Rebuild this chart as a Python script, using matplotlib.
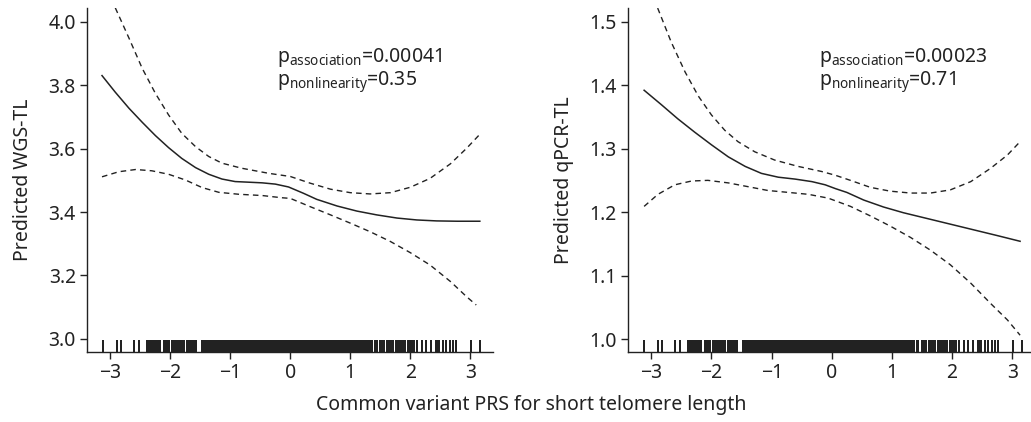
import matplotlib
matplotlib.use('Agg')
import matplotlib.pyplot as plt

plt.rcParams['font.family'] = ['Noto Sans', 'DejaVu Sans']
plt.rcParams['mathtext.default'] = 'regular'

# spline fit, WGS-TL (left)
wgs_x = [-3.14, -2.92, -2.69, -2.47, -2.25, -2.03, -1.81, -1.58, -1.36, -1.14, -0.92, -0.69,
         -0.47, -0.25, -0.03, 0.22, 0.44, 0.78, 1.11, 1.44, 1.78, 2.11, 2.44, 2.78, 3.16]
wgs_fit = [3.830, 3.778, 3.727, 3.683, 3.641, 3.603, 3.569, 3.540, 3.519, 3.504, 3.496, 3.494,
           3.492, 3.488, 3.479, 3.459, 3.440, 3.419, 3.403, 3.391, 3.381, 3.375, 3.372, 3.371, 3.371]
wgs_up_x = [-3.14, -2.91, -2.69, -2.47, -2.25, -2.03, -1.81, -1.58, -1.36, -1.14, -0.81, -0.36,
            0.0, 0.33, 0.67, 1.0, 1.33, 1.67, 2.0, 2.33, 2.67, 2.94, 3.16]
wgs_up = [4.137, 4.040, 3.948, 3.853, 3.774, 3.706, 3.648, 3.606, 3.575, 3.554, 3.538, 3.522,
          3.512, 3.491, 3.472, 3.461, 3.457, 3.461, 3.478, 3.506, 3.552, 3.601, 3.645]
wgs_lo_x = [-3.14, -2.86, -2.58, -2.31, -2.03, -1.75, -1.47, -1.19, -0.86, -0.47, -0.14, 0.0,
            0.33, 0.67, 1.0, 1.33, 1.67, 2.0, 2.33, 2.67, 2.94, 3.10]
wgs_lo = [3.511, 3.527, 3.534, 3.530, 3.519, 3.501, 3.477, 3.462, 3.456, 3.452, 3.445, 3.443,
          3.417, 3.391, 3.365, 3.338, 3.307, 3.272, 3.233, 3.181, 3.133, 3.107]

# spline fit, qPCR-TL (right)
qpcr_x = [-3.12, -2.83, -2.56, -2.28, -2.0, -1.72, -1.44, -1.17, -0.89, -0.61, -0.33, -0.11,
          0.06, 0.25, 0.53, 0.86, 1.19, 1.58, 1.97, 2.36, 2.75, 3.13]
qpcr_fit = [1.392, 1.369, 1.347, 1.326, 1.306, 1.287, 1.272, 1.261, 1.255, 1.252, 1.248, 1.243,
            1.237, 1.231, 1.219, 1.208, 1.199, 1.190, 1.181, 1.172, 1.163, 1.154]
qpcr_up_x = [-3.12, -2.88, -2.67, -2.44, -2.22, -2.0, -1.78, -1.56, -1.28, -0.95, -0.56, -0.17,
             0.06, 0.31, 0.64, 0.97, 1.31, 1.64, 1.97, 2.31, 2.64, 2.92, 3.13]
qpcr_up = [1.575, 1.518, 1.468, 1.421, 1.383, 1.353, 1.329, 1.311, 1.295, 1.282, 1.272, 1.264,
           1.258, 1.250, 1.239, 1.233, 1.230, 1.230, 1.235, 1.248, 1.269, 1.290, 1.311]
qpcr_lo_x = [-3.12, -2.89, -2.61, -2.33, -2.06, -1.72, -1.39, -1.06, -0.72, -0.39, -0.06,
             0.31, 0.64, 0.97, 1.31, 1.64, 1.97, 2.31, 2.64, 2.92, 3.13]
qpcr_lo = [1.209, 1.228, 1.243, 1.249, 1.250, 1.246, 1.240, 1.234, 1.231, 1.228, 1.222,
           1.209, 1.194, 1.178, 1.160, 1.140, 1.117, 1.088, 1.056, 1.030, 1.006]

# PRS values (rug)
prs = [-3.12, -2.89, -2.82, -2.60, -2.53, -2.39, -2.35, -2.32, -2.29, -2.26, -2.23, -2.20, -2.18,
       -2.11, -2.08, -2.06, -2.03, -1.97, -1.95, -1.93, -1.90, -1.88, -1.85, -1.83, -1.80, -1.77,
       -1.72, -1.69, -1.66, -1.63, -1.61, -1.57,
       -1.47, -1.45, -1.42, -1.40, -1.37, -1.35, -1.32, -1.30, -1.27, -1.25, -1.22, -1.20, -1.17,
       -1.15, -1.12, -1.10, -1.07, -1.05, -1.02, -1.00, -0.97, -0.95, -0.92, -0.90, -0.87, -0.85,
       -0.82, -0.80, -0.77, -0.75, -0.72, -0.70, -0.67, -0.65, -0.62, -0.60, -0.57, -0.55, -0.52,
       -0.50, -0.47, -0.45, -0.42, -0.40, -0.37, -0.35, -0.32, -0.30, -0.27, -0.25, -0.22, -0.20,
       -0.17, -0.15, -0.12, -0.10, -0.07, -0.05, -0.02, 0.00, 0.03, 0.05, 0.08, 0.10, 0.13, 0.15,
       0.18, 0.20, 0.23, 0.25, 0.28, 0.30, 0.33, 0.35, 0.38, 0.40, 0.43, 0.45, 0.48, 0.50, 0.53,
       0.55, 0.58, 0.60, 0.63, 0.65, 0.68, 0.70, 0.73, 0.75, 0.78, 0.80, 0.83, 0.85, 0.88, 0.90,
       0.93, 0.95, 0.98, 1.00, 1.03, 1.05, 1.08, 1.10, 1.13, 1.15, 1.18, 1.20, 1.23, 1.25, 1.28,
       1.30, 1.33, 1.36,
       1.41, 1.44, 1.50, 1.53, 1.56, 1.62, 1.65, 1.68, 1.72, 1.76, 1.79, 1.82, 1.85, 1.88, 1.92,
       1.96, 2.00, 2.03, 2.07, 2.12, 2.20, 2.27, 2.35, 2.43, 2.46, 2.48, 2.55, 2.60, 2.66, 2.72,
       2.77, 3.02, 3.17]

panels = [
    (wgs_x, wgs_fit, wgs_up_x, wgs_up, wgs_lo_x, wgs_lo, 'Predicted WGS-TL',
     [3.0, 3.2, 3.4, 3.6, 3.8, 4.0], (2.959, 4.043), '0.00041', '0.35'),
    (qpcr_x, qpcr_fit, qpcr_up_x, qpcr_up, qpcr_lo_x, qpcr_lo, 'Predicted qPCR-TL',
     [1.0, 1.1, 1.2, 1.3, 1.4, 1.5], (0.9796, 1.5216), '0.00023', '0.71'),
]

fig = plt.figure(figsize=(10.31, 4.22), dpi=100)
boxes = [[0.0844, 0.166, 0.3938, 0.815], [0.609, 0.166, 0.395, 0.815]]
col = '#222222'

for box, p in zip(boxes, panels):
    fx, fy, ux, uy, lx, ly, ylab, yt, ylim, pa, pn = p
    ax = fig.add_axes(box)
    ax.plot(fx, fy, color=col, lw=1.1)
    ax.plot(ux, uy, color=col, lw=1.0, ls=(0, (4, 3)))
    ax.plot(lx, ly, color=col, lw=1.0, ls=(0, (4, 3)))
    ax.vlines(prs, 0, 0.034, transform=ax.get_xaxis_transform(), color=col, lw=1.25,
              antialiased=False)
    ax.set_xlim(-3.39, 3.38)
    ax.set_ylim(*ylim)
    ax.set_xticks([-3, -2, -1, 0, 1, 2, 3])
    ax.set_xticklabels(['\u22123', '\u22122', '\u22121', '0', '1', '2', '3'])
    ax.set_yticks(yt)
    ax.set_yticklabels(['%.1f' % v for v in yt])
    ax.spines['top'].set_visible(False)
    ax.spines['right'].set_visible(False)
    for s in ['left', 'bottom']:
        ax.spines[s].set_color(col)
        ax.spines[s].set_linewidth(1.0)
    ax.tick_params(colors=col, labelsize=14, length=5, width=1.0, pad=3)
    ax.set_ylabel(ylab, fontsize=14, color=col, labelpad=11)
    ax.text(-0.22, 0.855, '$p_{association}$=' + pa, transform=ax.get_xaxis_transform(),
            fontsize=14, color=col, va='center')
    ax.text(-0.22, 0.785, '$p_{nonlinearity}$=' + pn, transform=ax.get_xaxis_transform(),
            fontsize=14, color=col, va='center')

fig.text(0.515, 0.04, 'Common variant PRS for short telomere length', ha='center', va='center',
         fontsize=14, color=col)

fig.savefig('out.png', dpi=100)
